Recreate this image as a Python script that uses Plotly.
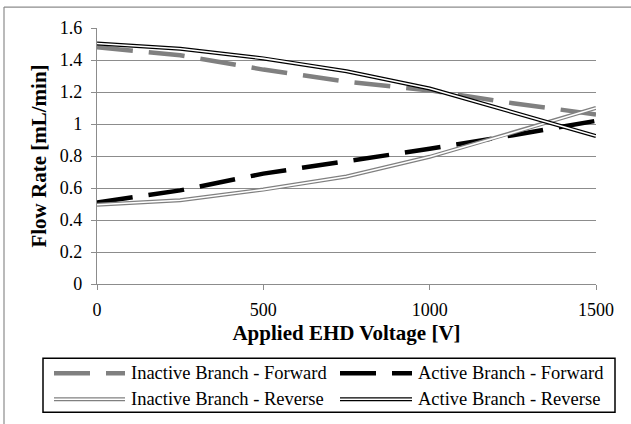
import plotly.graph_objects as go

voltage = [0, 250, 500, 750, 1000, 1250, 1500]
inactive_forward = [1.48, 1.43, 1.34, 1.265, 1.21, 1.13, 1.06]
active_forward = [0.51, 0.585, 0.69, 0.765, 0.845, 0.93, 1.02]
inactive_reverse = [0.495, 0.523, 0.59, 0.672, 0.795, 0.945, 1.10]
active_reverse = [1.503, 1.47, 1.41, 1.33, 1.222, 1.075, 0.925]

series_names = ["Inactive Branch - Forward", "Active Branch - Forward",
                "Inactive Branch - Reverse", "Active Branch - Reverse"]
y_ticks = [0, 0.2, 0.4, 0.6, 0.8, 1, 1.2, 1.4, 1.6]
x_ticks = [0, 500, 1000, 1500]

GRAY = "#808080"
GRID = "#8c8c8c"
FONT = "Liberation Serif, Times New Roman, Times, serif"

W, H = 631, 424
L, R, T, B = 97, 596, 28, 284.5


def px(x):
    return (x - L) / (R - L)


def py(y):
    return (B - y) / (B - T)


fig = go.Figure()
dash = "36px,16px"
fig.add_trace(go.Scatter(x=voltage, y=inactive_forward, mode="lines",
                         line=dict(color=GRAY, width=4.5, dash=dash), showlegend=False))
fig.add_trace(go.Scatter(x=voltage, y=active_forward, mode="lines",
                         line=dict(color="black", width=4.5, dash=dash), showlegend=False))
fig.add_trace(go.Scatter(x=voltage, y=inactive_reverse, mode="lines",
                         line=dict(color=GRAY, width=4), showlegend=False))
fig.add_trace(go.Scatter(x=voltage, y=inactive_reverse, mode="lines",
                         line=dict(color="white", width=1.6), showlegend=False))
fig.add_trace(go.Scatter(x=voltage, y=active_reverse, mode="lines",
                         line=dict(color="black", width=4), showlegend=False))
fig.add_trace(go.Scatter(x=voltage, y=active_reverse, mode="lines",
                         line=dict(color="white", width=1.6), showlegend=False))

shapes = []
# outer chart border (top and left visible)
shapes.append(dict(type="line", xref="paper", yref="paper", x0=px(4), x1=px(640), y0=py(7), y1=py(7),
                   line=dict(color=GRID, width=1.2)))
shapes.append(dict(type="line", xref="paper", yref="paper", x0=px(4), x1=px(4), y0=py(7), y1=py(430),
                   line=dict(color=GRID, width=1.2)))
# legend box
shapes.append(dict(type="rect", xref="paper", yref="paper", x0=px(43), x1=px(615), y0=py(359), y1=py(413),
                   line=dict(color="black", width=1.5), fillcolor="white"))

legend_items = [
    (series_names[0], 54, 125, 374, GRAY, "dash"),
    (series_names[1], 340, 412, 374, "black", "dash"),
    (series_names[2], 54, 125, 400, GRAY, "double"),
    (series_names[3], 340, 412, 400, "black", "double"),
]
annotations = []
for name, x0, x1, yy, col, kind in legend_items:
    if kind == "dash":
        shapes.append(dict(type="line", xref="paper", yref="paper", x0=px(x0), x1=px(x1), y0=py(yy), y1=py(yy),
                           line=dict(color=col, width=4.5, dash=dash)))
    else:
        shapes.append(dict(type="line", xref="paper", yref="paper", x0=px(x0), x1=px(x1), y0=py(yy), y1=py(yy),
                           line=dict(color=col, width=4)))
        shapes.append(dict(type="line", xref="paper", yref="paper", x0=px(x0), x1=px(x1), y0=py(yy), y1=py(yy),
                           line=dict(color="white", width=1.6)))
    annotations.append(dict(xref="paper", yref="paper", x=px(x1 + 4), y=py(yy), text=name,
                            showarrow=False, xanchor="left", yanchor="middle",
                            font=dict(family=FONT, size=18.5, color="black")))

fig.update_layout(
    width=W, height=H,
    margin=dict(l=L, r=W - R, t=T, b=H - B),
    paper_bgcolor="white", plot_bgcolor="white",
    font=dict(family=FONT, size=18, color="black"),
    shapes=shapes, annotations=annotations,
    showlegend=False,
    xaxis=dict(range=[0, 1500], tickvals=x_ticks, showgrid=False, showline=True,
               linecolor=GRID, linewidth=1.2, ticks="outside", ticklen=5, tickcolor=GRID,
               zeroline=False, tickfont=dict(family=FONT, size=18), ticklabelstandoff=4,
               title=dict(text="<b>Applied EHD Voltage [V]</b>", font=dict(family=FONT, size=21), standoff=6)),
    yaxis=dict(range=[0, 1.6], tickvals=y_ticks, showgrid=True, gridcolor=GRID, gridwidth=1.2,
               showline=True, linecolor=GRID, linewidth=1.2, ticks="outside", ticklen=5, tickcolor=GRID,
               zeroline=False, tickfont=dict(family=FONT, size=18), ticklabelstandoff=5,
               title=dict(text="<b>Flow Rate [mL/min]</b>", font=dict(family=FONT, size=21), standoff=7)),
)

fig.write_html("out.html", config={"displayModeBar": False},
               post_script="document.body.style.margin='0';")
